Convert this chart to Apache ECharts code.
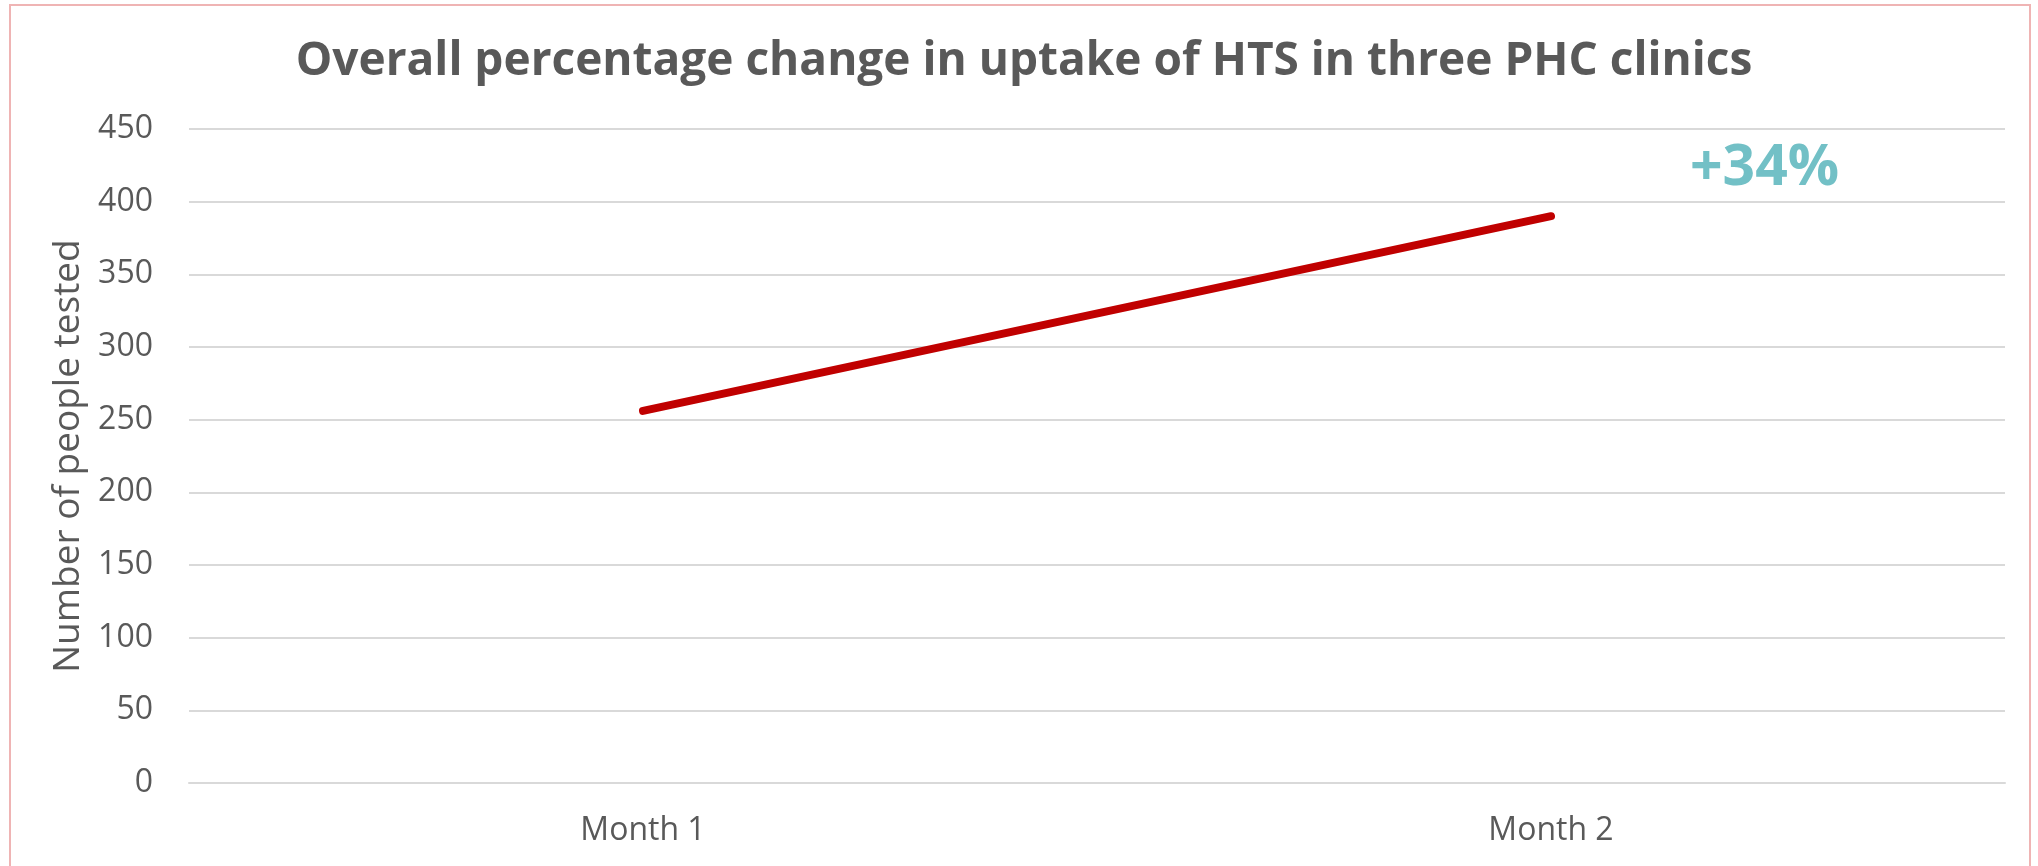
<!DOCTYPE html>
<html>
<head>
<meta charset="utf-8">
<script src="https://cdn.jsdelivr.net/npm/echarts@6/dist/echarts.min.js"></script>
<style>
  html, body { margin: 0; padding: 0; background: #fff; }
  #chart { width: 2038px; height: 866px; }
</style>
</head>
<body>
<div id="chart"></div>
<script>
// 数据
const months = ['Month 1', 'Month 2'];
const peopleTested = [256, 390];
const changeLabel = '+34%';

const myChart = echarts.init(document.getElementById('chart'));

const option = {
  backgroundColor: '#ffffff',
  title: {
    text: 'Overall percentage change in uptake of HTS in three PHC clinics',
    left: 1019,
    textAlign: 'center',
    top: 34,
    textStyle: {
      fontFamily: 'Open Sans',
      fontWeight: 'bold',
      fontSize: 46,
      color: '#595959'
    }
  },
  grid: {
    left: 189,
    right: 33,
    top: 129,
    bottom: 83
  },
  xAxis: {
    type: 'category',
    data: months,
    boundaryGap: true,
    axisLine: { show: true, lineStyle: { color: '#d9d9d9', width: 2 } },
    axisTick: { show: false },
    axisLabel: {
      margin: 32,
      fontFamily: 'Open Sans',
      fontSize: 32,
      color: '#595959'
    }
  },
  yAxis: {
    type: 'value',
    min: 0,
    max: 450,
    interval: 50,
    name: 'Number of people tested',
    nameLocation: 'middle',
    nameGap: 102,
    nameTextStyle: {
      fontFamily: 'Open Sans',
      fontSize: 37,
      color: '#595959'
    },
    axisLine: { show: false },
    axisTick: { show: false },
    axisLabel: {
      margin: 36,
      fontFamily: 'Open Sans',
      fontSize: 32,
      color: '#595959'
    },
    splitLine: {
      lineStyle: { color: '#d9d9d9', width: 2 }
    }
  },
  series: [{
    type: 'line',
    data: peopleTested,
    symbol: 'none',
    lineStyle: {
      color: '#c00000',
      width: 8,
      cap: 'round'
    }
  }],
  graphic: [
    {
      type: 'rect',
      shape: { x: 10, y: 5, width: 2020, height: 900 },
      style: { fill: 'none', stroke: '#efb4b4', lineWidth: 2 },
      silent: true
    },
    {
      type: 'text',
      left: 1690,
      top: 140,
      style: {
        text: changeLabel,
        fontFamily: 'Open Sans',
        fontWeight: 'bold',
        fontSize: 57,
        fill: '#72c0c6'
      }
    }
  ]
};

myChart.setOption(option);
</script>
</body>
</html>
